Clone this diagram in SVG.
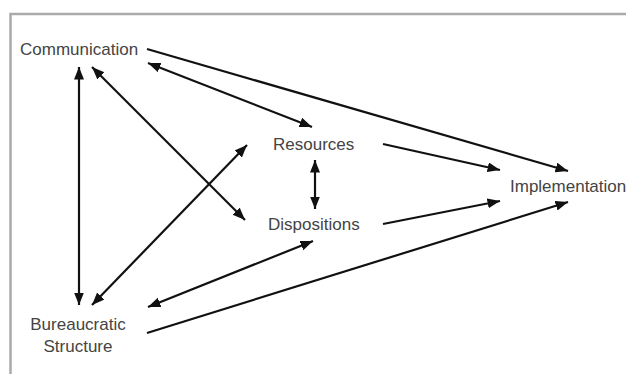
<svg xmlns="http://www.w3.org/2000/svg" width="626" height="374" viewBox="0 0 626 374">
<style>
.lbl{font-family:"Liberation Sans",Arial,sans-serif;font-size:17px;fill:#444}
.c{stroke:#111;stroke-width:2.2;fill:none;marker-end:url(#ah)}
.b{marker-start:url(#ah)}
</style>
<defs>
<marker id="ah" markerUnits="userSpaceOnUse" markerWidth="14" markerHeight="11" refX="12.5" refY="5" orient="auto-start-reverse">
<path d="M0,0 L12.5,5 L0,10 z" fill="#111"/>
</marker>
</defs>
<rect x="10.5" y="14" width="640" height="400" fill="#fff" stroke="#aaa" stroke-width="2.5"/>
<g id="communication"><text class="lbl" x="20" y="55">Communication</text></g>
<g id="resources"><text class="lbl" x="273" y="150">Resources</text></g>
<g id="dispositions"><text class="lbl" x="268" y="230">Dispositions</text></g>
<g id="implementation"><text class="lbl" x="510" y="192">Implementation</text></g>
<g id="bureaucratic-structure"><text class="lbl" text-anchor="middle" x="78" y="330">Bureaucratic</text><text class="lbl" text-anchor="middle" x="78" y="352">Structure</text></g>
<g id="connectors">
<line class="c" x1="147" y1="49" x2="568" y2="171"/>
<line class="c b" x1="148" y1="63" x2="312" y2="127"/>
<line class="c b" x1="79" y1="67" x2="79" y2="305"/>
<line class="c b" x1="92" y1="67" x2="245" y2="220"/>
<line class="c b" x1="92" y1="305" x2="247" y2="145"/>
<line class="c b" x1="315" y1="160" x2="315" y2="209"/>
<line class="c b" x1="148" y1="307" x2="313" y2="241"/>
<line class="c" x1="383" y1="144" x2="500" y2="170"/>
<line class="c" x1="383" y1="224" x2="500" y2="201"/>
<line class="c" x1="147" y1="333" x2="568" y2="202"/>
</g>
</svg>
